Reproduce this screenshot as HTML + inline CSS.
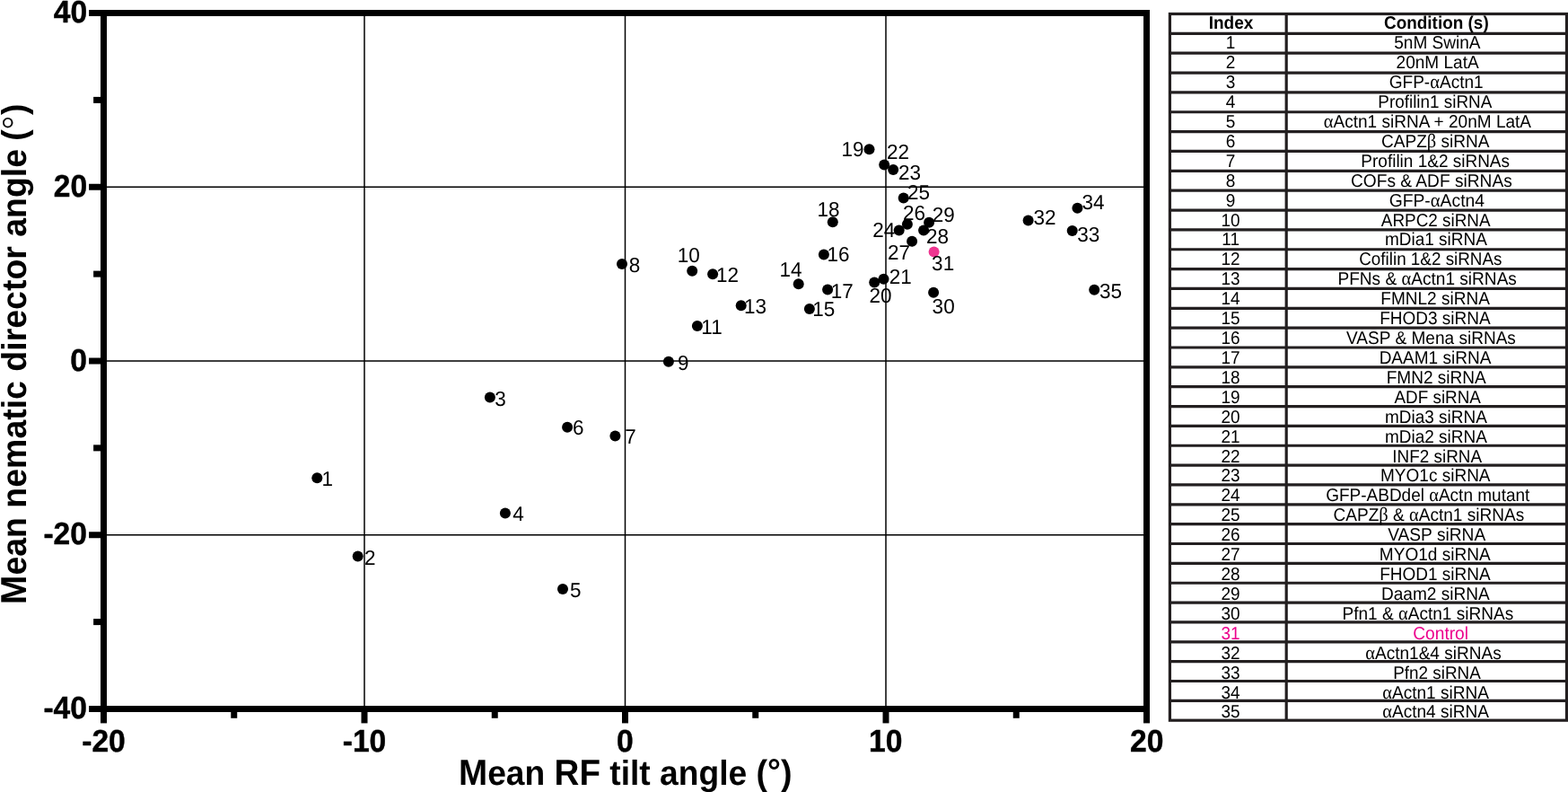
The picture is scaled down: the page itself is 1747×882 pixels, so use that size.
<!DOCTYPE html>
<html lang="en"><head><meta charset="utf-8"><title>Figure</title>
<style>html,body{margin:0;padding:0;background:#fff;overflow:hidden}svg{display:block;text-rendering:geometricPrecision;font-family:"Liberation Sans",Arial,Helvetica,sans-serif}.b{font-weight:bold}.ax{font-weight:bold;font-size:34.9px}.pl{font-size:23.0px}.tb{font-size:20.0px;fill:#000}.pk{fill:#ec008c}</style></head><body>
<svg width="1747" height="882" viewBox="0 0 1747 882">
<rect width="1747" height="882" fill="#fff"/>
<g stroke="#000" stroke-width="1.5">
<line x1="406.00" y1="14.5" x2="406.00" y2="789.5"/>
<line x1="696.50" y1="14.5" x2="696.50" y2="789.5"/>
<line x1="987.00" y1="14.5" x2="987.00" y2="789.5"/>
<line x1="115.5" y1="208.25" x2="1277.5" y2="208.25"/>
<line x1="115.5" y1="402.00" x2="1277.5" y2="402.00"/>
<line x1="115.5" y1="595.75" x2="1277.5" y2="595.75"/>
</g>
<rect x="115.5" y="14.5" width="1162.0" height="775.0" fill="none" stroke="#000" stroke-width="7"/>
<g stroke="#000" stroke-width="7">
<line x1="99.1" y1="14.50" x2="115.5" y2="14.50"/>
<line x1="99.1" y1="208.25" x2="115.5" y2="208.25"/>
<line x1="99.1" y1="402.00" x2="115.5" y2="402.00"/>
<line x1="99.1" y1="595.75" x2="115.5" y2="595.75"/>
<line x1="99.1" y1="789.50" x2="115.5" y2="789.50"/>
<line x1="104.1" y1="111.38" x2="115.5" y2="111.38"/>
<line x1="104.1" y1="305.12" x2="115.5" y2="305.12"/>
<line x1="104.1" y1="498.88" x2="115.5" y2="498.88"/>
<line x1="104.1" y1="692.62" x2="115.5" y2="692.62"/>
<line x1="115.50" y1="789.5" x2="115.50" y2="805.4"/>
<line x1="406.00" y1="789.5" x2="406.00" y2="805.4"/>
<line x1="696.50" y1="789.5" x2="696.50" y2="805.4"/>
<line x1="987.00" y1="789.5" x2="987.00" y2="805.4"/>
<line x1="1277.50" y1="789.5" x2="1277.50" y2="805.4"/>
<line x1="260.75" y1="789.5" x2="260.75" y2="799.8"/>
<line x1="551.25" y1="789.5" x2="551.25" y2="799.8"/>
<line x1="841.75" y1="789.5" x2="841.75" y2="799.8"/>
<line x1="1132.25" y1="789.5" x2="1132.25" y2="799.8"/>
</g>
<g class="ax" stroke="#000" stroke-width="0.45">
<text transform="translate(59.71,25.05) scale(0.9625,1)">40</text>
<text transform="translate(59.71,218.80) scale(0.9625,1)">20</text>
<text transform="translate(78.23,412.55) scale(0.9625,1)">0</text>
<text transform="translate(48.40,606.30) scale(0.9625,1)">-20</text>
<text transform="translate(48.40,800.05) scale(0.9625,1)">-40</text>
<text transform="translate(91.20,837.4) scale(0.9625,1)">-20</text>
<text transform="translate(381.70,837.4) scale(0.9625,1)">-10</text>
<text transform="translate(687.12,837.4) scale(0.9625,1)">0</text>
<text transform="translate(967.99,837.4) scale(0.9625,1)">10</text>
<text transform="translate(1258.97,837.4) scale(0.9625,1)">20</text>
</g>
<text class="b" font-size="38.8" transform="translate(510.96,873.6) scale(0.9582,1)"><tspan font-size="40.3">M</tspan>ean <tspan font-size="40.3">RF</tspan> tilt angle <tspan font-size="39.3">(</tspan><tspan dy="-2">°</tspan><tspan dy="2" font-size="39.3">)</tspan></text>
<g class="b" font-size="38.5">
<text transform="translate(29.3,673.27) rotate(-90) scale(0.9731,1)"><tspan font-size="40.3">M</tspan>ean nematic director angle</text>
<text font-size="38.6" transform="translate(29.3,156.68) rotate(-90) scale(0.9710,1)">(</text>
<text font-size="41.5" font-family="DejaVu Sans" font-weight="200" stroke="#000" stroke-width="0.25" transform="translate(32.60,146.88) rotate(-90)">°</text>
<text font-size="38.6" transform="translate(29.3,128.10) rotate(-90) scale(0.9710,1)">)</text>
</g>
<g fill="#000">
<circle cx="353.3" cy="532.2" r="6.0"/>
<circle cx="398.7" cy="619.5" r="6.0"/>
<circle cx="545.9" cy="442.6" r="6.0"/>
<circle cx="562.9" cy="571.6" r="6.0"/>
<circle cx="627.0" cy="656.0" r="6.0"/>
<circle cx="632.1" cy="475.7" r="6.0"/>
<circle cx="685.4" cy="485.6" r="6.0"/>
<circle cx="693.0" cy="294.1" r="6.0"/>
<circle cx="744.9" cy="402.8" r="6.0"/>
<circle cx="771.2" cy="301.8" r="6.0"/>
<circle cx="776.9" cy="363.1" r="6.0"/>
<circle cx="794.1" cy="305.3" r="6.0"/>
<circle cx="825.7" cy="340.2" r="6.0"/>
<circle cx="889.7" cy="316.3" r="6.0"/>
<circle cx="901.9" cy="344.0" r="6.0"/>
<circle cx="917.9" cy="283.4" r="6.0"/>
<circle cx="922.1" cy="322.6" r="6.0"/>
<circle cx="927.8" cy="247.2" r="6.0"/>
<circle cx="968.5" cy="166.2" r="6.0"/>
<circle cx="974.2" cy="314.6" r="6.0"/>
<circle cx="984.5" cy="310.8" r="6.0"/>
<circle cx="985.2" cy="183.6" r="6.0"/>
<circle cx="995.2" cy="189.1" r="6.0"/>
<circle cx="1001.7" cy="256.5" r="6.0"/>
<circle cx="1006.7" cy="220.6" r="6.0"/>
<circle cx="1010.9" cy="249.7" r="6.0"/>
<circle cx="1016.1" cy="268.7" r="6.0"/>
<circle cx="1029.1" cy="256.5" r="6.0"/>
<circle cx="1035.1" cy="247.7" r="6.0"/>
<circle cx="1040.1" cy="325.8" r="6.0"/>
<circle cx="1145.6" cy="245.5" r="6.0"/>
<circle cx="1194.7" cy="257.0" r="6.0"/>
<circle cx="1200.4" cy="231.8" r="6.0"/>
<circle cx="1219.2" cy="322.7" r="6.0"/>
</g>
<circle cx="1040.6" cy="280.4" r="6.0" fill="#ee3590"/>
<g class="pl">
<text transform="translate(358.59,541.0) scale(0.9783,1)">1</text>
<text transform="translate(406.08,628.6) scale(0.9783,1)">2</text>
<text transform="translate(551.32,451.6) scale(0.9783,1)">3</text>
<text transform="translate(571.21,579.9) scale(0.9783,1)">4</text>
<text transform="translate(634.92,665.4) scale(0.9783,1)">5</text>
<text transform="translate(637.88,484.2) scale(0.9783,1)">6</text>
<text transform="translate(696.28,494.1) scale(0.9783,1)">7</text>
<text transform="translate(700.82,302.6) scale(0.9783,1)">8</text>
<text transform="translate(754.92,411.8) scale(0.9783,1)">9</text>
<text transform="translate(754.69,292.0) scale(0.9783,1)">10</text>
<text transform="translate(781.29,372.0) scale(0.9783,1)">11</text>
<text transform="translate(797.99,314.3) scale(0.9783,1)">12</text>
<text transform="translate(828.99,349.0) scale(0.9783,1)">13</text>
<text transform="translate(868.49,308.2) scale(0.9783,1)">14</text>
<text transform="translate(905.19,351.5) scale(0.9783,1)">15</text>
<text transform="translate(921.59,290.8) scale(0.9783,1)">16</text>
<text transform="translate(925.79,331.7) scale(0.9783,1)">17</text>
<text transform="translate(910.39,240.5) scale(0.9783,1)">18</text>
<text transform="translate(937.59,174.2) scale(0.9783,1)">19</text>
<text transform="translate(968.48,337.4) scale(0.9783,1)">20</text>
<text transform="translate(990.68,316.1) scale(0.9783,1)">21</text>
<text transform="translate(987.98,177.3) scale(0.9783,1)">22</text>
<text transform="translate(1000.98,199.8) scale(0.9783,1)">23</text>
<text transform="translate(972.28,264.3) scale(0.9783,1)">24</text>
<text transform="translate(1010.88,221.8) scale(0.9783,1)">25</text>
<text transform="translate(1005.88,244.7) scale(0.9783,1)">26</text>
<text transform="translate(988.98,288.7) scale(0.9783,1)">27</text>
<text transform="translate(1032.08,271.2) scale(0.9783,1)">28</text>
<text transform="translate(1038.78,247.2) scale(0.9783,1)">29</text>
<text transform="translate(1038.62,349.1) scale(0.9783,1)">30</text>
<text transform="translate(1038.12,300.9) scale(0.9783,1)">31</text>
<text transform="translate(1151.52,250.1) scale(0.9783,1)">32</text>
<text transform="translate(1200.22,269.3) scale(0.9783,1)">33</text>
<text transform="translate(1205.52,232.7) scale(0.9783,1)">34</text>
<text transform="translate(1224.92,331.6) scale(0.9783,1)">35</text>
</g>
<g stroke="#231f20" stroke-width="3.2" fill="none">
<rect x="1303.4" y="15.5" width="442.1" height="786.7"/>
<line x1="1433.2" y1="15.5" x2="1433.2" y2="802.2"/>
<line x1="1303.4" y1="37.35" x2="1745.5" y2="37.35"/>
<line x1="1303.4" y1="59.21" x2="1745.5" y2="59.21"/>
<line x1="1303.4" y1="81.06" x2="1745.5" y2="81.06"/>
<line x1="1303.4" y1="102.91" x2="1745.5" y2="102.91"/>
<line x1="1303.4" y1="124.76" x2="1745.5" y2="124.76"/>
<line x1="1303.4" y1="146.62" x2="1745.5" y2="146.62"/>
<line x1="1303.4" y1="168.47" x2="1745.5" y2="168.47"/>
<line x1="1303.4" y1="190.32" x2="1745.5" y2="190.32"/>
<line x1="1303.4" y1="212.18" x2="1745.5" y2="212.18"/>
<line x1="1303.4" y1="234.03" x2="1745.5" y2="234.03"/>
<line x1="1303.4" y1="255.88" x2="1745.5" y2="255.88"/>
<line x1="1303.4" y1="277.73" x2="1745.5" y2="277.73"/>
<line x1="1303.4" y1="299.59" x2="1745.5" y2="299.59"/>
<line x1="1303.4" y1="321.44" x2="1745.5" y2="321.44"/>
<line x1="1303.4" y1="343.29" x2="1745.5" y2="343.29"/>
<line x1="1303.4" y1="365.14" x2="1745.5" y2="365.14"/>
<line x1="1303.4" y1="387.00" x2="1745.5" y2="387.00"/>
<line x1="1303.4" y1="408.85" x2="1745.5" y2="408.85"/>
<line x1="1303.4" y1="430.70" x2="1745.5" y2="430.70"/>
<line x1="1303.4" y1="452.56" x2="1745.5" y2="452.56"/>
<line x1="1303.4" y1="474.41" x2="1745.5" y2="474.41"/>
<line x1="1303.4" y1="496.26" x2="1745.5" y2="496.26"/>
<line x1="1303.4" y1="518.11" x2="1745.5" y2="518.11"/>
<line x1="1303.4" y1="539.97" x2="1745.5" y2="539.97"/>
<line x1="1303.4" y1="561.82" x2="1745.5" y2="561.82"/>
<line x1="1303.4" y1="583.67" x2="1745.5" y2="583.67"/>
<line x1="1303.4" y1="605.52" x2="1745.5" y2="605.52"/>
<line x1="1303.4" y1="627.38" x2="1745.5" y2="627.38"/>
<line x1="1303.4" y1="649.23" x2="1745.5" y2="649.23"/>
<line x1="1303.4" y1="671.08" x2="1745.5" y2="671.08"/>
<line x1="1303.4" y1="692.94" x2="1745.5" y2="692.94"/>
<line x1="1303.4" y1="714.79" x2="1745.5" y2="714.79"/>
<line x1="1303.4" y1="736.64" x2="1745.5" y2="736.64"/>
<line x1="1303.4" y1="758.49" x2="1745.5" y2="758.49"/>
<line x1="1303.4" y1="780.35" x2="1745.5" y2="780.35"/>
</g>
<g class="tb">
<text class="b" text-anchor="middle" transform="translate(1371.50,32.40) scale(0.9500,1)">Index</text>
<text class="b" transform="translate(1541.99,32.40) scale(0.9465,1)">Condition (s)</text>
<text text-anchor="middle" transform="translate(1371.10,54.31) scale(0.9500,1)">1</text>
<text transform="translate(1553.19,54.31) scale(0.9526,1)">5nM SwinA</text>
<text text-anchor="middle" transform="translate(1371.10,76.23) scale(0.9500,1)">2</text>
<text transform="translate(1555.55,76.23) scale(0.9518,1)">20nM LatA</text>
<text text-anchor="middle" transform="translate(1371.10,98.15) scale(0.9500,1)">3</text>
<text transform="translate(1547.65,98.15) scale(0.9533,1)">GFP-<tspan font-family="Liberation Serif, serif" font-size="21.5">α</tspan>Actn1</text>
<text text-anchor="middle" transform="translate(1371.10,120.06) scale(0.9500,1)">4</text>
<text transform="translate(1535.35,120.06) scale(0.9442,1)">Profilin1 siRNA</text>
<text text-anchor="middle" transform="translate(1371.10,141.97) scale(0.9500,1)">5</text>
<text transform="translate(1474.79,141.97) scale(0.9515,1)"><tspan font-family="Liberation Serif, serif" font-size="21.5">α</tspan>Actn1 siRNA + 20nM LatA</text>
<text text-anchor="middle" transform="translate(1371.10,163.89) scale(0.9500,1)">6</text>
<text transform="translate(1539.05,163.89) scale(0.9522,1)">CAPZ<tspan font-family="Liberation Serif, serif" font-size="21.5">β</tspan> siRNA</text>
<text text-anchor="middle" transform="translate(1371.10,185.81) scale(0.9500,1)">7</text>
<text transform="translate(1516.34,185.81) scale(0.9494,1)">Profilin 1&amp;2 siRNAs</text>
<text text-anchor="middle" transform="translate(1371.10,207.72) scale(0.9500,1)">8</text>
<text transform="translate(1505.04,207.72) scale(0.9570,1)">COFs &amp; ADF siRNAs</text>
<text text-anchor="middle" transform="translate(1371.10,229.63) scale(0.9500,1)">9</text>
<text transform="translate(1547.64,229.63) scale(0.9650,1)">GFP-<tspan font-family="Liberation Serif, serif" font-size="21.5">α</tspan>Actn4</text>
<text text-anchor="middle" transform="translate(1371.10,251.55) scale(0.9500,1)">10</text>
<text transform="translate(1538.80,251.55) scale(0.9445,1)">ARPC2 siRNA</text>
<text text-anchor="middle" transform="translate(1371.10,273.46) scale(0.9500,1)">11</text>
<text transform="translate(1542.91,273.46) scale(0.9491,1)">mDia1 siRNA</text>
<text text-anchor="middle" transform="translate(1371.10,295.38) scale(0.9500,1)">12</text>
<text transform="translate(1514.26,295.38) scale(0.9423,1)">Cofilin 1&amp;2 siRNAs</text>
<text text-anchor="middle" transform="translate(1371.10,317.29) scale(0.9500,1)">13</text>
<text transform="translate(1490.43,317.29) scale(0.9540,1)">PFNs &amp; <tspan font-family="Liberation Serif, serif" font-size="21.5">α</tspan>Actn1 siRNAs</text>
<text text-anchor="middle" transform="translate(1371.10,339.21) scale(0.9500,1)">14</text>
<text transform="translate(1538.34,339.21) scale(0.9508,1)">FMNL2 siRNA</text>
<text text-anchor="middle" transform="translate(1371.10,361.12) scale(0.9500,1)">15</text>
<text transform="translate(1537.14,361.12) scale(0.9505,1)">FHOD3 siRNA</text>
<text text-anchor="middle" transform="translate(1371.10,383.04) scale(0.9500,1)">16</text>
<text transform="translate(1500.06,383.04) scale(0.9526,1)">VASP &amp; Mena siRNAs</text>
<text text-anchor="middle" transform="translate(1371.10,404.95) scale(0.9500,1)">17</text>
<text transform="translate(1536.64,404.95) scale(0.9509,1)">DAAM1 siRNA</text>
<text text-anchor="middle" transform="translate(1371.10,426.87) scale(0.9500,1)">18</text>
<text transform="translate(1544.63,426.87) scale(0.9525,1)">FMN2 siRNA</text>
<text text-anchor="middle" transform="translate(1371.10,448.78) scale(0.9500,1)">19</text>
<text transform="translate(1553.50,448.78) scale(0.9431,1)">ADF siRNA</text>
<text text-anchor="middle" transform="translate(1371.10,470.70) scale(0.9500,1)">20</text>
<text transform="translate(1542.91,470.70) scale(0.9491,1)">mDia3 siRNA</text>
<text text-anchor="middle" transform="translate(1371.10,492.61) scale(0.9500,1)">21</text>
<text transform="translate(1542.91,492.61) scale(0.9491,1)">mDia2 siRNA</text>
<text text-anchor="middle" transform="translate(1371.10,514.53) scale(0.9500,1)">22</text>
<text transform="translate(1551.35,514.53) scale(0.9446,1)">INF2 siRNA</text>
<text text-anchor="middle" transform="translate(1371.10,536.44) scale(0.9500,1)">23</text>
<text transform="translate(1538.04,536.44) scale(0.9504,1)">MYO1c siRNA</text>
<text text-anchor="middle" transform="translate(1371.10,558.36) scale(0.9500,1)">24</text>
<text transform="translate(1477.15,558.36) scale(0.9500,1)">GFP-ABDdel <tspan font-family="Liberation Serif, serif" font-size="21.5">α</tspan>Actn mutant</text>
<text text-anchor="middle" transform="translate(1371.10,580.27) scale(0.9500,1)">25</text>
<text transform="translate(1485.55,580.27) scale(0.9520,1)">CAPZ<tspan font-family="Liberation Serif, serif" font-size="21.5">β</tspan> &amp; <tspan font-family="Liberation Serif, serif" font-size="21.5">α</tspan>Actn1 siRNAs</text>
<text text-anchor="middle" transform="translate(1371.10,602.19) scale(0.9500,1)">26</text>
<text transform="translate(1546.16,602.19) scale(0.9589,1)">VASP siRNA</text>
<text text-anchor="middle" transform="translate(1371.10,624.10) scale(0.9500,1)">27</text>
<text transform="translate(1536.83,624.10) scale(0.9528,1)">MYO1d siRNA</text>
<text text-anchor="middle" transform="translate(1371.10,646.02) scale(0.9500,1)">28</text>
<text transform="translate(1537.14,646.02) scale(0.9505,1)">FHOD1 siRNA</text>
<text text-anchor="middle" transform="translate(1371.10,667.93) scale(0.9500,1)">29</text>
<text transform="translate(1538.93,667.93) scale(0.9531,1)">Daam2 siRNA</text>
<text text-anchor="middle" transform="translate(1371.10,689.85) scale(0.9500,1)">30</text>
<text transform="translate(1495.43,689.85) scale(0.9532,1)">Pfn1 &amp; <tspan font-family="Liberation Serif, serif" font-size="21.5">α</tspan>Actn1 siRNAs</text>
<text class="pk" text-anchor="middle" transform="translate(1371.10,711.76) scale(0.9500,1)">31</text>
<text class="pk" transform="translate(1574.24,711.76) scale(0.9581,1)">Control</text>
<text text-anchor="middle" transform="translate(1371.10,733.68) scale(0.9500,1)">32</text>
<text transform="translate(1521.19,733.68) scale(0.9528,1)"><tspan font-family="Liberation Serif, serif" font-size="21.5">α</tspan>Actn1&amp;4 siRNAs</text>
<text text-anchor="middle" transform="translate(1371.10,755.59) scale(0.9500,1)">33</text>
<text transform="translate(1552.25,755.59) scale(0.9438,1)">Pfn2 siRNA</text>
<text text-anchor="middle" transform="translate(1371.10,777.51) scale(0.9500,1)">34</text>
<text transform="translate(1540.18,777.51) scale(0.9535,1)"><tspan font-family="Liberation Serif, serif" font-size="21.5">α</tspan>Actn1 siRNA</text>
<text text-anchor="middle" transform="translate(1371.10,799.42) scale(0.9500,1)">35</text>
<text transform="translate(1540.18,799.42) scale(0.9535,1)"><tspan font-family="Liberation Serif, serif" font-size="21.5">α</tspan>Actn4 siRNA</text>
</g>
</svg></body></html>
